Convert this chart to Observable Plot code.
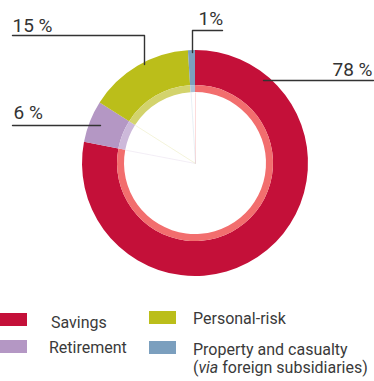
<!DOCTYPE html>
<html><head><meta charset="utf-8">
<script src="https://cdn.jsdelivr.net/npm/d3@7"></script>
<script src="https://cdn.jsdelivr.net/npm/@observablehq/plot@0.6"></script>
<style>
body{margin:0;background:#fff;font-family:Roboto,"Liberation Sans",sans-serif;color:#3a3a3a}
#wrap{position:relative;width:374px;height:381px;overflow:hidden}
#chart{position:absolute;left:0;top:0}
.sw{position:absolute;width:27px;height:13px}
.lt{position:absolute;font-size:16px;line-height:18px;white-space:nowrap;color:#3a3a3a}
</style></head>
<body><div id="wrap"><div id="chart"></div></div>
<script>
const categories = ["Savings", "Retirement", "Personal-risk", "Property and casualty"];
const shares = [78, 6, 15, 1];
const colors = ["#C41039", "#B497C4", "#BBBE1A", "#7B9FBE"];
const innerColors = ["#F26E6E", "#CDB9DA", "#D3D36C", "#A9C1D6"];
const labelTexts = ["78 %", "6 %", "15 %", "1%"];

// layout (units = px, origin at donut centre)
const R = 113, R1 = 78, R0 = 71;
const labelPos = [
  {x: 177, y: -88, anchor: "end"},
  {x: -182, y: -45, anchor: "start"},
  {x: -183, y: -132, anchor: "start"},
  {x: 3, y: -139, anchor: "start"}
];
const leaders = [
  [[68, -83], [178, -83]],
  [[-95, -38], [-183, -38]],
  [[-51, -99], [-51, -128], [-183, -128]],
  [[-3, -111], [-3, -133], [27, -133]]
];

const data = categories.map((c, i) => ({category: c, value: shares[i], color: colors[i], inner: innerColors[i]}));
const arcs = d3.pie().value(d => d.value).sort(null)(data);

const leaderData = leaders.flatMap((pts, i) => pts.map(([x, y]) => ({i, x, y})));
const labelData = labelTexts.map((t, i) => ({text: t, ...labelPos[i]}));
const spokes = arcs.map(a => ({a: a.startAngle, color: a.data.inner}));

function donut(index, scales) {
  const cx = scales.x(0), cy = scales.y(0);
  const k = scales.x(1) - scales.x(0);
  const g = d3.create("svg:g").attr("transform", `translate(${cx},${cy})`);
  const outer = d3.arc().innerRadius(R1 * k).outerRadius(R * k);
  const inner = d3.arc().innerRadius(R0 * k).outerRadius(R1 * k);
  g.selectAll("path.o").data(arcs).join("path").attr("d", outer).attr("fill", d => d.data.color);
  g.selectAll("path.i").data(arcs).join("path").attr("d", inner).attr("fill", d => d.data.inner);
  return g.node();
}

const textOpts = {x: "x", y: "y", text: "text", lineAnchor: "bottom", fontSize: 19, fill: "#333", fontFamily: "Roboto"};
const plot = Plot.plot({
  width: 374, height: 300,
  margin: 0,
  style: {overflow: "visible"},
  x: {domain: [-195, 179], range: [0, 374], axis: null},
  y: {domain: [-163, 137], range: [0, 300], axis: null},
  marks: [
    Plot.link(spokes, {x1: 0, y1: 0, x2: d => R0 * Math.sin(d.a), y2: d => -R0 * Math.cos(d.a), stroke: "color", strokeOpacity: 0.35, strokeWidth: 0.7}),
    donut,
    Plot.line(leaderData, {x: "x", y: "y", z: "i", stroke: "#333", strokeWidth: 1.4}),
    Plot.text(labelData.filter(d => d.anchor === "end"), {...textOpts, textAnchor: "end"}),
    Plot.text(labelData.filter(d => d.anchor === "start"), {...textOpts, textAnchor: "start"})
  ]
});
document.getElementById("chart").appendChild(plot);

// legend
const legendPos = [
  {sx: 0, sy: 313, tx: 51, ty: 314},
  {sx: 0, sy: 340, tx: 49, ty: 339},
  {sx: 149, sy: 311, tx: 193, ty: 310},
  {sx: 149, sy: 341, tx: 193, ty: 341}
];
const legendHtml = ["Savings", "Retirement", "Personal-risk", "Property and casualty<br>(<i>via</i> foreign subsidiaries)"];
const wrap = document.getElementById("wrap");
categories.forEach((c, i) => {
  const p = legendPos[i];
  const s = document.createElement("div");
  s.className = "sw"; s.style.left = p.sx + "px"; s.style.top = p.sy + "px"; s.style.background = colors[i];
  wrap.appendChild(s);
  const t = document.createElement("div");
  t.className = "lt"; t.style.left = p.tx + "px"; t.style.top = p.ty + "px";
  t.innerHTML = legendHtml[i];
  wrap.appendChild(t);
});
</script></body></html>
